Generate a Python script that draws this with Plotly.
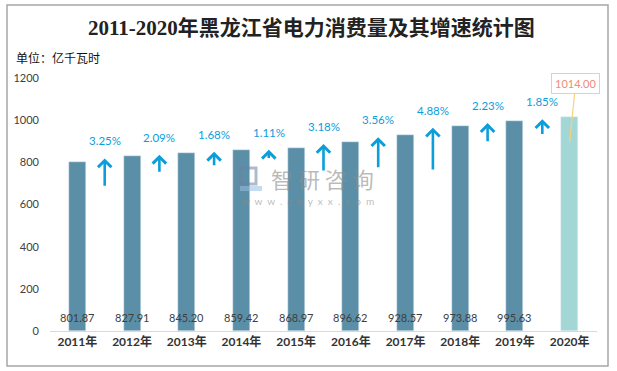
import plotly.graph_objects as go

years = ["2011年", "2012年", "2013年", "2014年", "2015年", "2016年", "2017年", "2018年", "2019年", "2020年"]
consumption = [801.87, 827.91, 845.20, 859.42, 868.97, 896.62, 928.57, 973.88, 995.63, 1014.00]
growth = [3.25, 2.09, 1.68, 1.11, 3.18, 3.56, 4.88, 2.23, 1.85]
y_ticks = [0, 200, 400, 600, 800, 1000, 1200]

FONT = "Lato, Noto Sans CJK SC, sans-serif"
BAR = "#5B8FA7"
LAST = "#A3D7D6"
ARROW = "#0A9EDB"

idx = list(range(len(years)))
colors = [BAR] * (len(years) - 1) + [LAST]

fig = go.Figure()
fig.add_trace(go.Bar(x=idx, y=consumption, marker_color=colors, width=0.31,
                     hoverinfo="skip", showlegend=False))


def px(xp, yp):
    """convert page pixel to paper coords (plot area 50..597 x, 78..331 y)"""
    return (xp - 50) / 547, (331 - yp) / 253


ann = []
# base value labels (all except last)
for i, v in enumerate(consumption[:-1]):
    ann.append(dict(x=i, y=0, text=f"{v:.2f}", showarrow=False, yanchor="bottom", yshift=5,
                    font=dict(family=FONT, size=11, color="#404040")))

# growth arrows and labels
K = 42  # data units per percent of arrow length
for i, g in enumerate(growth):
    tip = consumption[i + 1]
    ann.append(dict(x=i + 0.5, y=tip, ax=i + 0.5, ay=tip - g * K, xref="x", yref="y",
                    axref="x", ayref="y", showarrow=True, arrowhead=4, arrowsize=1.0,
                    arrowwidth=2.6, arrowcolor=ARROW, text="", yshift=-2))
    ann.append(dict(x=i + 0.5, y=tip, text=f"{g:.2f}%", showarrow=False, yanchor="middle",
                    yshift=15.5, font=dict(family=FONT, size=11.5, color=ARROW)))

# callout for last value
ann.append(dict(x=len(years) - 1, y=consumption[-1], text=f"{consumption[-1]:.2f}",
                showarrow=True, arrowhead=0, arrowwidth=1.2, arrowcolor="#F7D27C",
                ax=6, ay=-59, yshift=-25, bordercolor="#F7D27C", borderwidth=1,
                borderpad=3, bgcolor="white",
                font=dict(family=FONT, size=11, color="#F08A78")))

# title & unit
tx, ty = px(311, 28)
ann.append(dict(xref="paper", yref="paper", x=tx, y=ty, xanchor="center", yanchor="middle",
                text="<b>2011-2020年黑龙江省电力消费量及其增速统计图</b>", showarrow=False,
                font=dict(family="Liberation Serif, Noto Sans CJK SC, serif", size=21, color="#222222")))
ux, uy = px(14, 57)
ann.append(dict(xref="paper", yref="paper", x=ux, y=uy, xanchor="left", yanchor="middle",
                text="单位：亿千瓦时", showarrow=False,
                font=dict(family="Noto Sans CJK SC", size=12, color="#111111")))

# watermark
wx, wy = px(322, 178)
ann.append(dict(xref="paper", yref="paper", x=wx, y=wy, xanchor="center", yanchor="middle",
                text="智 研 咨 询", showarrow=False,
                font=dict(family="Noto Sans CJK SC", size=22, color="rgba(140,140,140,0.6)")))
wx2, wy2 = px(308, 201)
ann.append(dict(xref="paper", yref="paper", x=wx2, y=wy2, xanchor="center", yanchor="middle",
                text="w  w  w  .  c  h  y  x  x  .  c  o  m", showarrow=False,
                font=dict(family=FONT, size=10, color="rgba(140,140,140,0.6)")))

bx0, by0 = px(7, 366)
bx1, by1 = px(608, 5)
l0x, l0y = px(240, 186)
l1x, l1y = px(262, 191)
l2x, l2y = px(240, 168)
l3x, l3y = px(256, 184)
shapes = [
    dict(type="rect", xref="paper", yref="paper", x0=bx0, x1=bx1, y0=by0, y1=by1,
         line=dict(color="#A6A6A6", width=1.5), fillcolor="rgba(0,0,0,0)"),
    dict(type="rect", xref="paper", yref="paper", x0=l0x, x1=l1x, y0=l1y, y1=l0y,
         line=dict(width=0), fillcolor="rgba(150,190,225,0.55)"),
    dict(type="rect", xref="paper", yref="paper", x0=l2x, x1=l3x, y0=l3y, y1=l2y,
         line=dict(color="rgba(110,130,160,0.55)", width=3), fillcolor="rgba(0,0,0,0)"),
]

fig.update_layout(
    width=617, height=371, margin=dict(l=50, r=20, t=78, b=40),
    paper_bgcolor="white", plot_bgcolor="white", bargap=0,
    annotations=ann, shapes=shapes,
    xaxis=dict(range=[-0.5, len(years) - 0.5], tickvals=idx,
               ticktext=[f"<b>{y}</b>" for y in years], showgrid=False, zeroline=False,
               showline=True, linecolor="#D9D9D9", linewidth=1, ticks="",
               tickfont=dict(family=FONT, size=12, color="#333333")),
    yaxis=dict(range=[0, 1200], tickvals=y_ticks, showgrid=False, zeroline=False,
               showline=False, ticks="", ticklabelstandoff=10,
               tickfont=dict(family=FONT, size=11, color="#404040")),
)

fig.write_html("out.html", config={"displayModeBar": False},
               post_script="document.body.style.margin='0';")
